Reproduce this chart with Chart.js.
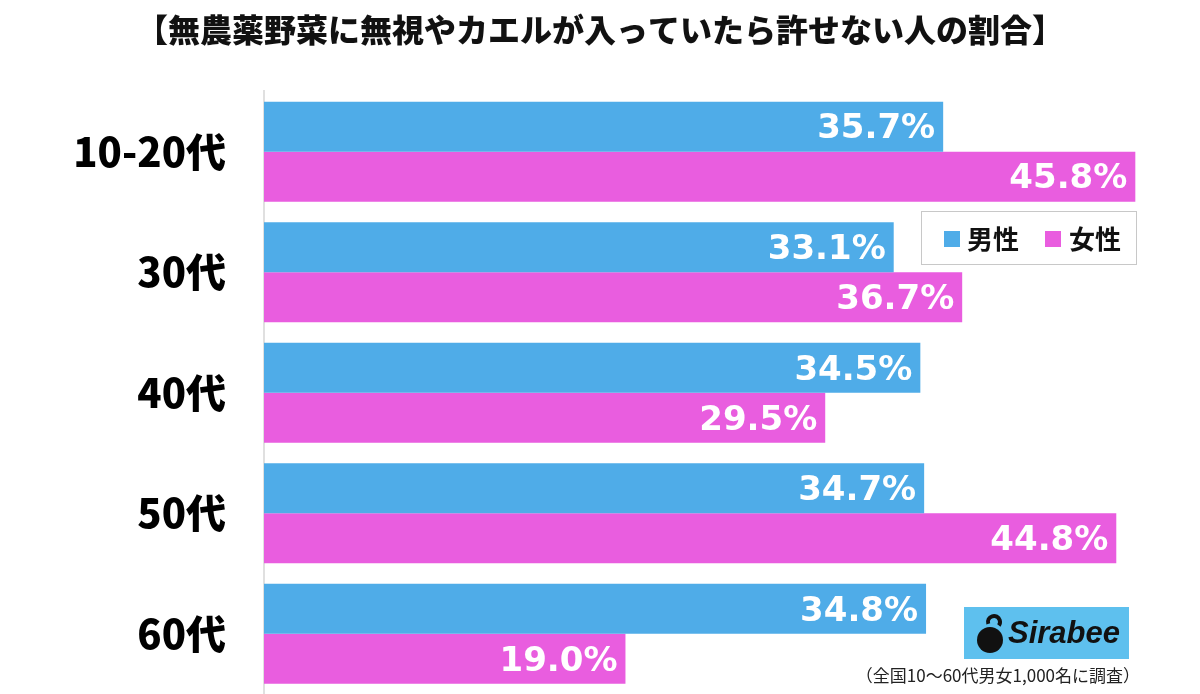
<!DOCTYPE html>
<html>
<head>
<meta charset="utf-8">
<script src="https://cdn.jsdelivr.net/npm/chart.js@4"></script>
<style>
  body { margin: 0; background: #fff; }
  #wrap { position: relative; width: 1200px; height: 694px; }
</style>
</head>
<body>
<div id="wrap"><canvas id="chart" width="1200" height="694"></canvas></div>
<script>
// categories and values
const ageGroups = ["10-20代", "30代", "40代", "50代", "60代"]
const maleValues = [35.7, 33.1, 34.5, 34.7, 34.8]
const femaleValues = [45.8, 36.7, 29.5, 44.8, 19.0]
const seriesNames = ["男性", "女性"]
const blue = "#4facE8"
const pink = "#e95ddf"

// white value labels at the end of each bar
const valueLabels = {
  id: "valueLabels",
  afterDatasetsDraw(chart) {
    const ctx = chart.ctx
    ctx.save()
    ctx.font = "bold 34px 'DejaVu Sans'"
    ctx.fillStyle = "#fff"
    ctx.textAlign = "right"
    ctx.textBaseline = "middle"
    chart.data.datasets.forEach((ds, i) => {
      chart.getDatasetMeta(i).data.forEach((bar, j) => {
        ctx.fillText(ds.data[j].toFixed(1) + "%", bar.x - 8, bar.y + 3)
      })
    })
    ctx.restore()
  }
}

// legend box, logo and footnote
const extras = {
  id: "extras",
  afterDraw(chart) {
    const ctx = chart.ctx
    ctx.save()
    // legend
    ctx.fillStyle = "#fff"
    ctx.fillRect(921, 211, 215, 54)
    ctx.strokeStyle = "#c8c8c8"
    ctx.lineWidth = 1
    ctx.strokeRect(921.5, 211.5, 215, 53)
    ctx.font = "bold 26px 'Noto Sans CJK JP'"
    ctx.textBaseline = "middle"
    ctx.textAlign = "left"
    ctx.fillStyle = blue
    ctx.fillRect(944, 231, 16, 16)
    ctx.fillStyle = "#111"
    ctx.fillText(seriesNames[0], 967, 239)
    ctx.fillStyle = pink
    ctx.fillRect(1045, 231, 16, 16)
    ctx.fillStyle = "#111"
    ctx.fillText(seriesNames[1], 1069, 239)
    // logo
    ctx.fillStyle = "#5ec0ee"
    ctx.fillRect(964, 607, 165, 52)
    ctx.fillStyle = "#111"
    ctx.beginPath()
    ctx.arc(990, 640, 13, 0, Math.PI * 2)
    ctx.fill()
    ctx.lineWidth = 4
    ctx.strokeStyle = "#111"
    ctx.beginPath()
    ctx.arc(994, 622, 6, Math.PI * 0.9, Math.PI * 2.2)
    ctx.stroke()
    ctx.font = "italic bold 31px 'Liberation Sans'"
    ctx.fillText("Sirabee", 1008, 634)
    // footnote
    ctx.font = "17px 'Noto Sans CJK JP'"
    ctx.textAlign = "right"
    ctx.fillStyle = "#222"
    ctx.fillText("（全国10～60代男女1,000名に調査）", 1140, 676)
    ctx.restore()
  }
}

new Chart(document.getElementById("chart"), {
  type: "bar",
  data: {
    labels: ageGroups,
    datasets: [
      { label: seriesNames[0], data: maleValues, backgroundColor: blue },
      { label: seriesNames[1], data: femaleValues, backgroundColor: pink }
    ]
  },
  options: {
    indexAxis: "y",
    responsive: false,
    animation: false,
    categoryPercentage: 0.83,
    barPercentage: 1,
    layout: { padding: 0 },
    plugins: {
      legend: { display: false },
      tooltip: { enabled: false },
      title: {
        display: true,
        text: "【無農薬野菜に無視やカエルが入っていたら許せない人の割合】",
        color: "#111",
        font: { family: "'Noto Sans CJK JP'", size: 32, weight: "900" },
        padding: { top: 11, bottom: 42 }
      }
    },
    scales: {
      x: { display: false, min: 0, max: 49.2 },
      y: {
        grid: { display: false },
        border: { display: true, color: "#e0e0e0", width: 2 },
        ticks: {
          color: "#000",
          padding: 30,
          font: { family: "'Noto Sans CJK JP'", size: 40, weight: "900" }
        },
        afterFit(scale) {
          scale.width = 264
          scale.paddingTop = 0
          scale.paddingBottom = 0
        }
      }
    }
  },
  plugins: [valueLabels, extras]
})
</script>
</body>
</html>
